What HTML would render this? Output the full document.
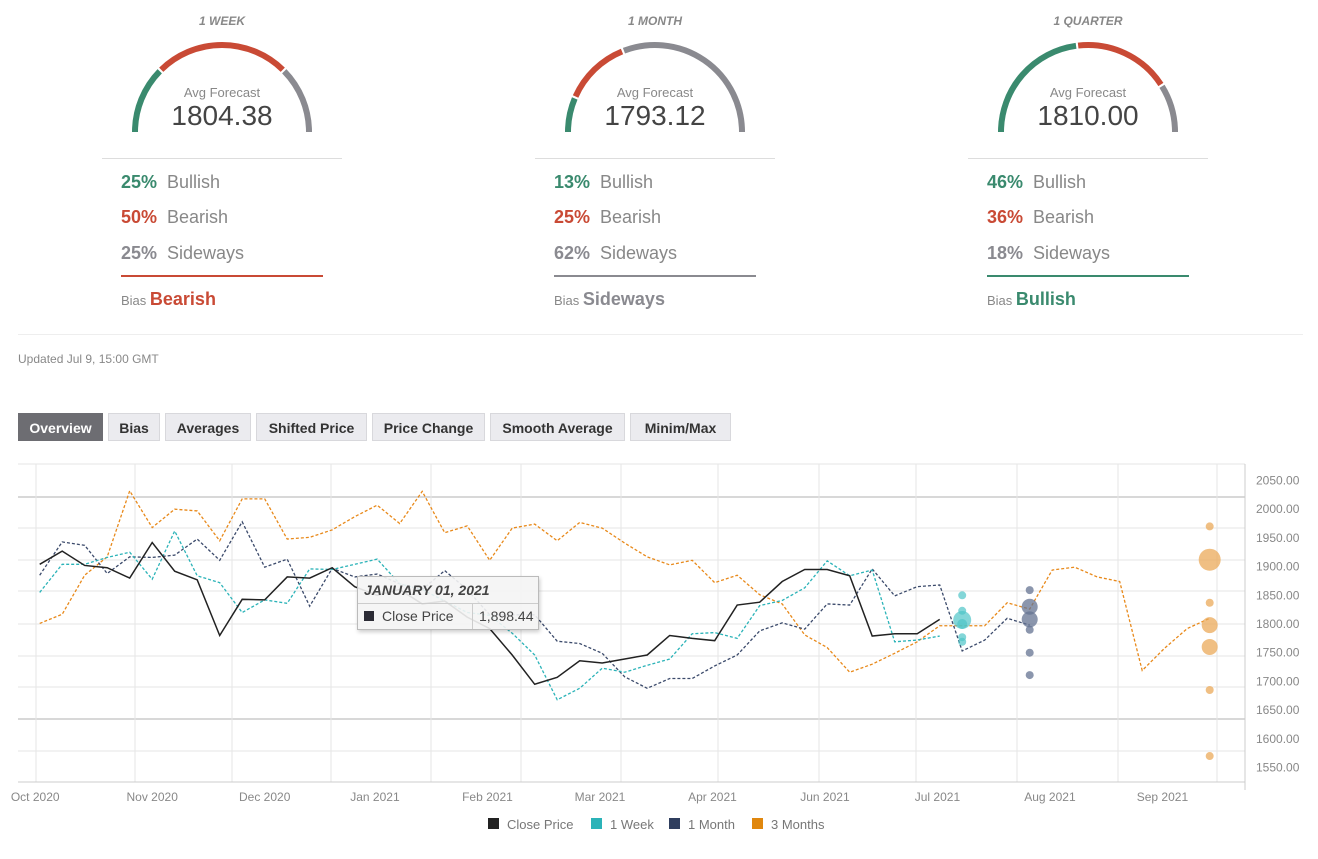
<!DOCTYPE html>
<html><head><meta charset="utf-8"><style>
body{margin:0;width:1318px;height:859px;background:#fff;font-family:"Liberation Sans",sans-serif;position:relative;overflow:hidden}
.abs{position:absolute}
.title{font-size:12px;font-style:italic;font-weight:bold;color:#888;text-align:center;width:200px}
.avg{font-size:13px;color:#888;text-align:center;width:200px}
.val{font-size:28px;color:#444;text-align:center;width:200px}
.row{font-size:18px;color:#888}
.row b{display:inline-block;width:46px}
.tab{position:absolute;top:413px;height:28px;line-height:28px;background:#ebebef;border:1px solid #d8d8dc;font-size:14px;font-weight:bold;color:#333;text-align:center;box-sizing:border-box}
</style></head><body>
<div id="gauges"></div>
<div class="abs" style="left:18px;top:334px;width:1285px;height:1px;background:#eee"></div>
<div class="abs" style="left:18px;top:352px;font-size:12px;color:#888">Updated Jul 9, 15:00 GMT</div>
<div class="tab" style="left:18px;width:85px;background:#6d6d72;color:#fff;border-color:#6d6d72">Overview</div>
<div class="tab" style="left:108px;width:52px">Bias</div>
<div class="tab" style="left:165px;width:86px">Averages</div>
<div class="tab" style="left:256px;width:111px">Shifted Price</div>
<div class="tab" style="left:372px;width:113px">Price Change</div>
<div class="tab" style="left:490px;width:135px">Smooth Average</div>
<div class="tab" style="left:630px;width:101px">Minim/Max</div>
<svg id="chart" class="abs" style="left:0;top:0" width="1318" height="859"></svg>
<div class="abs" style="left:357px;top:576px;width:180px;height:52px;background:rgba(244,244,244,0.9);border:1px solid #bbb;box-shadow:1px 2px 4px rgba(0,0,0,0.2);font-size:14px;color:#444">
<div style="height:26px;line-height:26px;padding-left:6px;font-weight:bold;font-style:italic;border-bottom:1px solid #ccc">JANUARY 01, 2021</div>
<div style="height:25px;line-height:25px;display:flex"><span style="width:108px;border-right:1px solid #ccc;padding-left:6px"><span style="display:inline-block;width:10px;height:10px;background:#2b2b35;margin-right:8px"></span>Close Price</span><span style="padding-left:6px">1,898.44</span></div>
</div>
<script>
const gaugeTitles=["1 WEEK","1 MONTH","1 QUARTER"];
const gaugeValues=["1804.38","1793.12","1810.00"];
const bullish=[25,13,46];
const bearish=[50,25,36];
const sideways=[25,62,18];
const biasLabels=["Bearish","Sideways","Bullish"];
const G="#3a8a6e",R="#c94a35",S="#8a8a90";
const biasColors=[R,S,G];
const gcx=[222,655,1088];
const gw=document.getElementById('gauges');
function arc(cx,cy,r,a0,a1){const p=a=>[cx+r*Math.cos(a),cy-r*Math.sin(a)];const s=p(a0),e=p(a1);return `M${s[0]},${s[1]} A${r},${r} 0 0 1 ${e[0]},${e[1]}`;}
gaugeTitles.forEach((t,i)=>{
  const cx=gcx[i];
  const d=document.createElement('div');
  
  
  const segs=[[bullish[i],G],[bearish[i],R],[sideways[i],S]];
  let a=Math.PI,paths='';
  segs.forEach(([p,c])=>{const a1=a-Math.PI*p/100;if(p>0)paths+=`<path d="${arc(cx,132,87,a-(a===Math.PI?0:0.012),a1+(a1<=0.001?0:0.012))}" stroke="${c}" stroke-width="6" fill="none"/>`;a=a1;});
  d.innerHTML=`<div class="abs title" style="left:${cx-100}px;top:14px">${t}</div>
  <svg class="abs" style="left:0;top:0" width="1318" height="140">${paths}</svg>
  <div class="abs avg" style="left:${cx-100}px;top:85px">Avg Forecast</div>
  <div class="abs val" style="left:${cx-100}px;top:100px">${gaugeValues[i]}</div>
  <div class="abs" style="left:${cx-120}px;top:158px;width:240px;height:1px;background:#ddd"></div>
  <div class="abs row" style="left:${cx-101}px;top:172px"><b style="color:${G}">${bullish[i]}%</b>Bullish</div>
  <div class="abs row" style="left:${cx-101}px;top:207px"><b style="color:${R}">${bearish[i]}%</b>Bearish</div>
  <div class="abs row" style="left:${cx-101}px;top:243px"><b style="color:${S}">${sideways[i]}%</b>Sideways</div>
  <div class="abs" style="left:${cx-101}px;top:275px;width:202px;height:2px;background:${biasColors[i]}"></div>
  <div class="abs" style="left:${cx-101}px;top:289px;font-size:13px;color:#888">Bias <span style="font-size:18px;font-weight:bold;color:${biasColors[i]}">${biasLabels[i]}</span></div>`;
  gw.appendChild(d);
});

// Chart data (weekly index from Oct 2 2020)
const closePrice=[1904,1927,1902,1898,1880,1942,1892,1877,1780,1843,1842,1882,1880,1898,1865,1850,1860,1835,1840,1812,1792,1746,1695,1707,1736,1732,1739,1746,1780,1775,1771,1833,1838,1874,1895,1895,1884,1779,1783,1783,1808];
const oneWeek=[1855,1904,1904,1916,1925,1878,1962,1884,1872,1820,1842,1836,1896,1895,1904,1913,1870,1860,1840,1820,1815,1784,1746,1668,1688,1723,1716,1728,1739,1783,1785,1775,1832,1841,1863,1910,1884,1894,1769,1772,1779];
const oneMonth=[1885,1943,1937,1888,1917,1916,1920,1948,1911,1978,1899,1913,1831,1897,1882,1887,1870,1860,1893,1860,1816,1816,1816,1770,1766,1749,1708,1688,1705,1705,1727,1746,1788,1802,1791,1835,1833,1896,1849,1865,1868,1753,1772,1810,1798];
const threeMonths=[1801,1817,1885,1917,2032,1968,2000,1997,1945,2018,2018,1948,1951,1964,1987,2007,1975,2031,1959,1971,1911,1967,1974,1945,1977,1967,1941,1917,1903,1911,1872,1885,1851,1835,1781,1759,1716,1730,1749,1769,1797,1797,1797,1837,1826,1894,1899,1882,1874,1719,1758,1792,1810];
const weekDots=[1850,1823,1807,1800,1777,1769];
const weekDotSizes=[4,4,9,5,4,4];
const monthDots=[1859,1830,1808,1790,1750,1711];
const monthDotSizes=[4,8,8,4,4,4];
const quarterDots=[1970,1912,1837,1798,1760,1685,1570];
const quarterDotSizes=[4,11,4,8,8,4,4];
const yTicks=[2050,2000,1950,1900,1850,1800,1750,1700,1650,1600,1550];
const xLabels=["Oct 2020","Nov 2020","Dec 2020","Jan 2021","Feb 2021","Mar 2021","Apr 2021","Jun 2021","Jul 2021","Aug 2021","Sep 2021"];
const xLabelWeeks=[-0.2,5,10,14.9,19.9,24.9,29.9,34.9,39.9,44.9,49.9];

const X=i=>39.7+i*22.5;
const Y=v=>624-(v-1800)*0.574;
const svg=document.getElementById('chart');
const NS='http://www.w3.org/2000/svg';
function el(t,a){const e=document.createElementNS(NS,t);for(const k in a)e.setAttribute(k,a[k]);svg.appendChild(e);return e;}
// grid
[464,497,528,560,591,624,656,687,719,751].forEach((y,k)=>{const g=el('line',{x1:18,x2:1245,y1:y,y2:y,stroke:(k==1||k==8)?'#d8d8d8':'#e6e6e6','stroke-width':(k==1||k==8)?2:1});

});
[36,135,232,331,431,521,621,718,819,916,1017,1118,1217].forEach(x=>{const g=el('line',{x1:x,x2:x,y1:464,y2:782,stroke:'#e6e6e6'});

});
const ax=el('line',{x1:18,x2:1245,y1:782,y2:782,stroke:'#ccc'});


const ay=el('line',{x1:1245,x2:1245,y1:464,y2:790,stroke:'#ccc'});


yTicks.forEach(v=>{const t=el('text',{x:1256,y:Y(v)+4,'font-size':12,fill:'#888'});t.textContent=v.toFixed(2);

});
xLabels.forEach((l,k)=>{const t=el('text',{x:X(xLabelWeeks[k]),y:801,'font-size':12,fill:'#888','text-anchor':'middle'});t.textContent=l;

});
function line(data,color,dash,name){const p=el('polyline',{points:data.map((v,i)=>X(i)+','+Y(v)).join(' '),fill:'none',stroke:color,'stroke-width':dash?1.3:1.5,'stroke-dasharray':dash?'3,2':'none'});

}
line(threeMonths,'#e8891a',true,'three-months-line');
line(oneMonth,'#3b4a6b',true,'one-month-line');
line(oneWeek,'#2bb3b8',true,'one-week-line');
line(closePrice,'#222',false,'close-price-line');
function dots(vals,sizes,idx,color,name){vals.forEach((v,k)=>{const c=el('circle',{cx:X(idx),cy:Y(v),r:sizes[k],fill:color});

});}
dots(weekDots,weekDotSizes,41,'rgba(79,196,200,0.7)','week-forecast-dot');
dots(monthDots,monthDotSizes,44,'rgba(100,115,145,0.75)','month-forecast-dot');
dots(quarterDots,quarterDotSizes,52,'rgba(235,170,90,0.75)','quarter-forecast-dot');
// legend
const leg=[["Close Price","#222",488],["1 Week","#2bb3b8",591],["1 Month","#2f3e5e",669],["3 Months","#e0870e",752]];
leg.forEach(([l,c,x])=>{const r=el('rect',{x:x,y:818,width:11,height:11,fill:c});


const t=el('text',{x:x+19,y:829,'font-size':13,fill:'#777'});t.textContent=l;

});
</script>
</body></html>
